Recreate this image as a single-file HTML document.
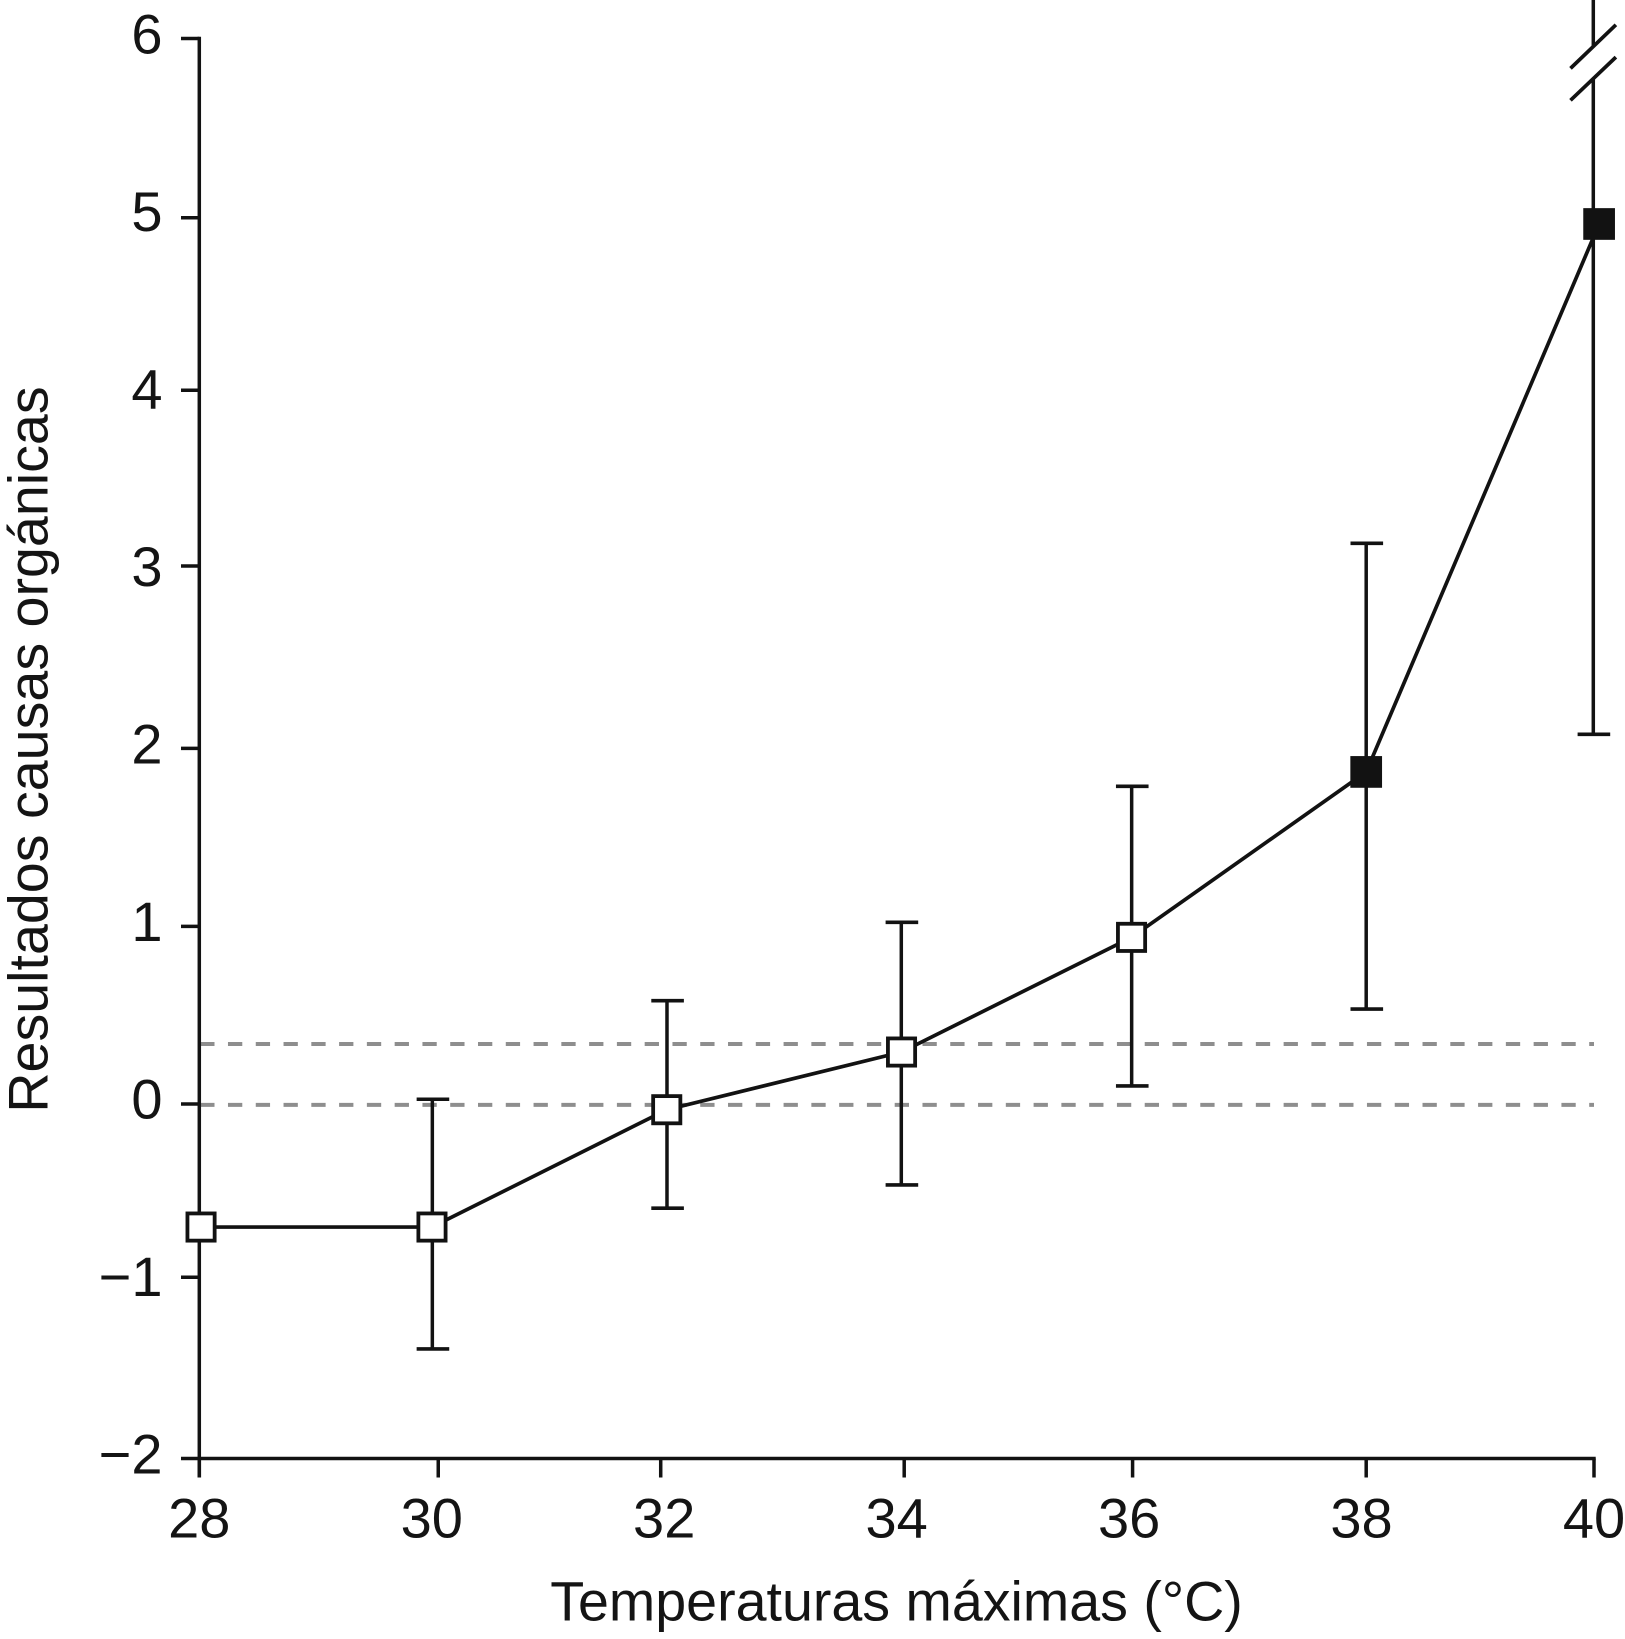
<!DOCTYPE html>
<html lang="es">
<head>
<meta charset="utf-8">
<title>Resultados causas orgánicas vs temperaturas máximas</title>
<style>
html,body{margin:0;padding:0;background:#fff;}
svg{display:block;}
text{font-family:"Liberation Sans",sans-serif;fill:#141414;font-size:56px;}
text.axis-title{font-size:55.6px;}
</style>
</head>
<body>
<svg id="chart" xmlns="http://www.w3.org/2000/svg" width="1625" height="1639" viewBox="0 0 1625 1639">
  <text class="axis-title" x="896.5" y="1620.5" text-anchor="middle">Temperaturas máximas (°C)</text>
  <text class="axis-title" transform="translate(47.5 749.5) rotate(-90)" text-anchor="middle">Resultados causas orgánicas</text>
</svg>
<script>
// Series values
const temperatures = [28.015, 30.002, 32.022, 34.042, 36.021, 38.04, 40.044];
const results = [-0.696, -0.696, -0.035, 0.29, 0.936, 1.868, 4.955];
const significant = [false, false, false, false, false, true, true];
const errorTemps = [null, 30.005, 32.024, 34.04, 36.022, 38.04, 39.994];
const errorHigh = [null, 0.024, 0.579, 1.021, 1.787, 3.156, 6.25];
const errorLow = [null, -1.383, -0.59, -0.459, 0.099, 0.532, 2.08];
// Axis break on the last error bar
const breakHigh = 5.955;
const breakLow = 5.775;
const breakIndex = 6;
// Reference levels (dashed)
const referenceLevels = [0.335, -0.008];
// Tick labels and where the hand-placed tick marks sit, in data units
const xTickLabels = [28, 30, 32, 34, 36, 38, 40];
const xTickMarks = [28, 30.056, 31.97, 34.065, 36.03, 38.04, 40];
const yTickLabels = [-2, -1, 0, 1, 2, 3, 4, 5, 6];
const yTickMarks = [-2, -0.979, -0.003, 0.998, 2.001, 3.028, 4.018, 4.99, 6];

const SVG_NS = 'http://www.w3.org/2000/svg';
const chart = document.getElementById('chart');
const INK = '#121212';
const STROKE = 3.5;

function xScale(v) { return 199.3 + (v - 28) * 116.225; }
function yScale(v) { return 1103.5 - v * 177.5; }

function makeLine(x1, y1, x2, y2, stroke, width) {
  const el = document.createElementNS(SVG_NS, 'line');
  el.setAttribute('x1', x1);
  el.setAttribute('y1', y1);
  el.setAttribute('x2', x2);
  el.setAttribute('y2', y2);
  el.setAttribute('stroke', stroke);
  el.setAttribute('stroke-width', width);
  chart.appendChild(el);
  return el;
}

// Dashed reference lines
referenceLevels.forEach(function (level) {
  const el = makeLine(200.2, yScale(level), xScale(40), yScale(level), '#8e8e8e', 4);
  el.setAttribute('stroke-dasharray', '14.3 13.48');
  
  
});

// Axes
const xAxisY = yScale(-2);
const xAxisLine = makeLine(xScale(28) - 1.5, xAxisY, xScale(40) + 1.7, xAxisY, INK, STROKE);


const yAxisLine = makeLine(xScale(28), yScale(6) - 1.7, xScale(28), xAxisY + 19, INK, STROKE);



// X ticks and labels
xTickLabels.forEach(function (label, i) {
  const tick = makeLine(xScale(xTickMarks[i]), xAxisY, xScale(xTickMarks[i]), xAxisY + 19, INK, STROKE);
  
  
  const text = document.createElementNS(SVG_NS, 'text');
  text.setAttribute('x', xScale(label));
  text.setAttribute('y', 1537.5);
  text.setAttribute('text-anchor', 'middle');
  text.textContent = String(label);
  
  
  chart.appendChild(text);
});

// Y ticks and labels
yTickLabels.forEach(function (label, i) {
  const tick = makeLine(181, yScale(yTickMarks[i]), xScale(28), yScale(yTickMarks[i]), INK, STROKE);
  
  
  const text = document.createElementNS(SVG_NS, 'text');
  text.setAttribute('x', 162.5);
  text.setAttribute('y', yScale(label) + 15);
  text.setAttribute('text-anchor', 'end');
  text.textContent = String(label).replace('-', '\u2212');
  
  
  chart.appendChild(text);
});

// Error bars
errorTemps.forEach(function (t, i) {
  if (t === null) return;
  const x = xScale(t);
  const top = yScale(errorHigh[i]);
  const bottom = yScale(errorLow[i]);
  if (i === breakIndex) {
    const upper = makeLine(x, top, x, yScale(breakHigh), INK, STROKE);
    
    
    const lower = makeLine(x, yScale(breakLow), x, bottom, INK, STROKE);
    
    
    const slashA = makeLine(x - 22.8, yScale(breakHigh) + 21.9, x + 22.6, yScale(breakHigh) - 21.7, INK, 3.7);
    
    
    const slashB = makeLine(x - 22.8, yScale(breakLow) + 21.9, x + 22.6, yScale(breakLow) - 21.3, INK, 3.7);
    
    
  } else {
    const bar = makeLine(x, top, x, bottom, INK, STROKE);
    
    
    const capTop = makeLine(x - 15.7, top, x + 16.9, top, INK, 3.6);
    
    
  }
  const capBottom = makeLine(x - 15.7, bottom, x + 16.9, bottom, INK, 3.6);
  
  
});

// Series line
const seriesLine = document.createElementNS(SVG_NS, 'polyline');
seriesLine.setAttribute('points', temperatures.map(function (t, i) {
  return xScale(t) + ',' + yScale(results[i]);
}).join(' '));
seriesLine.setAttribute('fill', 'none');
seriesLine.setAttribute('stroke', INK);
seriesLine.setAttribute('stroke-width', 3.7);


chart.appendChild(seriesLine);

// Markers
temperatures.forEach(function (t, i) {
  const filled = significant[i];
  const size = filled ? 31.7 : 27.2;
  const rect = document.createElementNS(SVG_NS, 'rect');
  rect.setAttribute('x', xScale(t) - size / 2);
  rect.setAttribute('y', yScale(results[i]) - size / 2);
  rect.setAttribute('width', size);
  rect.setAttribute('height', size);
  rect.setAttribute('fill', filled ? INK : '#ffffff');
  rect.setAttribute('stroke', filled ? 'none' : INK);
  rect.setAttribute('stroke-width', filled ? 0 : 3.8);
  
  
  chart.appendChild(rect);
});
</script>
</body>
</html>
